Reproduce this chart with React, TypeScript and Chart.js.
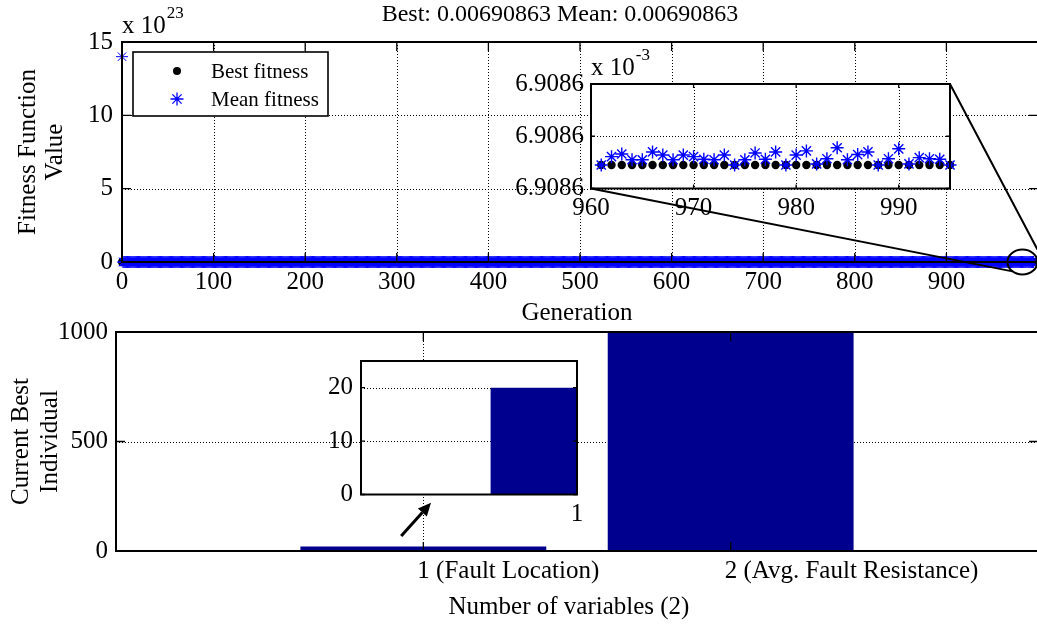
import React, { useEffect, useRef } from 'react';
import { Chart, registerables } from 'chart.js';

Chart.register(...registerables);

const SERIF = '"Liberation Serif", "Times New Roman", Times, serif';
const BLUE = '#0000FF';
const NAVY = '#00008F';
const PAGE_W = 1037;
const PAGE_H = 625;
const CANVAS_W = 1045; // axes run a little past the right page edge

// ---------- Fitness history of the GA run ----------
const lastGeneration = 995;
const initialMeanFitness = 1.4e24; // population mean at generation 0
const bestFitness = 0.00690863; // best value (stalled)
const meanFitness = 0.00690863; // converged population mean
const tailFirstGeneration = 961;
// population mean for generations 961..995
const tailMeanFitness = [
  0.00690863, 0.0069086316, 0.0069086321, 0.006908631, 0.006908631,
  0.0069086325, 0.0069086319, 0.006908631, 0.0069086319, 0.0069086316,
  0.0069086311, 0.006908631, 0.0069086319, 0.00690863, 0.006908631,
  0.0069086323, 0.0069086311, 0.0069086325, 0.00690863, 0.0069086319,
  0.0069086327, 0.0069086302, 0.0069086312, 0.0069086333, 0.006908631,
  0.006908632, 0.0069086325, 0.00690863, 0.0069086312, 0.0069086331,
  0.0069086302, 0.0069086314, 0.0069086312, 0.0069086311, 0.00690863,
];

const generationMax = 1000;
const generationTicks = [0, 100, 200, 300, 400, 500, 600, 700, 800, 900];
const fitnessMax = 15e23;
const fitnessTicks = [0, 5e23, 10e23, 15e23];
const fitnessExponent = '23';

// zoomed view of the last generations
const zoomGenerationMin = 960;
const zoomGenerationMax = 995;
const zoomGenerationTicks = [960, 970, 980, 990];
const zoomFitnessTicks = [0.0069086255, 0.0069086355, 0.0069086455];
const zoomExponent = '-3';
const zoomCenterGeneration = 983;

// ---------- Current best individual ----------
const variableIndex = [1, 2];
const variableNames = ['Fault Location', 'Avg. Fault Resistance'];
const currentBest = [20, 1000];
const individualMax = 1000;
const individualTicks = [0, 500, 1000];
const insetIndividualMax = 25;
const insetIndividualTicks = [0, 10, 20];

// plot boxes on the page
type Area = { left: number; top: number; right: number; bottom: number };
const mainArea: Area = { left: 122, top: 42, right: 1038, bottom: 262 };
const zoomArea: Area = { left: 591, top: 84, right: 950, bottom: 188.5 };
const barArea: Area = { left: 116, top: 332, right: 1038, bottom: 551 };
const barZoomArea: Area = { left: 361, top: 361, right: 577, bottom: 494.5 };

function padFor(area: Area, yW: number, xH: number) {
  return { left: area.left - yW, top: area.top, right: CANVAS_W - area.right, bottom: PAGE_H - area.bottom - xH };
}

const tickFont = { family: SERIF, size: 25 };

function drawStar(ctx: CanvasRenderingContext2D, x: number, y: number, r: number) {
  const d = r * Math.SQRT1_2;
  ctx.save();
  ctx.strokeStyle = BLUE;
  ctx.lineWidth = 1.3;
  ctx.beginPath();
  ctx.moveTo(x - r, y); ctx.lineTo(x + r, y);
  ctx.moveTo(x, y - r); ctx.lineTo(x, y + r);
  ctx.moveTo(x - d, y - d); ctx.lineTo(x + d, y + d);
  ctx.moveTo(x - d, y + d); ctx.lineTo(x + d, y - d);
  ctx.stroke();
  ctx.restore();
}

function drawDot(ctx: CanvasRenderingContext2D, x: number, y: number, r: number) {
  ctx.save();
  ctx.fillStyle = '#000';
  ctx.beginPath();
  ctx.arc(x, y, r, 0, Math.PI * 2);
  ctx.fill();
  ctx.restore();
}

function drawPower(ctx: CanvasRenderingContext2D, x: number, baseline: number, exp: string) {
  ctx.save();
  ctx.fillStyle = '#000';
  ctx.textAlign = 'left';
  ctx.textBaseline = 'alphabetic';
  ctx.font = `25px ${SERIF}`;
  ctx.fillText('x 10', x, baseline);
  const w = ctx.measureText('x 10').width;
  ctx.font = `17px ${SERIF}`;
  ctx.fillText(exp, x + w + 1, baseline - 15);
  ctx.restore();
}

function drawText(ctx: CanvasRenderingContext2D, s: string, x: number, y: number, size: number, rotate = false) {
  ctx.save();
  ctx.fillStyle = '#000';
  ctx.font = `${size}px ${SERIF}`;
  ctx.textAlign = 'center';
  ctx.textBaseline = 'alphabetic';
  ctx.translate(x, y);
  if (rotate) ctx.rotate(-Math.PI / 2);
  ctx.fillText(s, 0, 0);
  ctx.restore();
}

// MATLAB-style axes: dotted grid, inward ticks, boxed plot area
function matlabAxes(cfg: {
  xTicks: number[]; yTicks: number[]; xGrid: number[]; yGrid: number[];
  tickLen: number; boxWidth: number; whiteBg: boolean;
}) {
  return {
    id: 'matlabAxes',
    beforeDraw(chart: any) {
      if (!cfg.whiteBg) return;
      const { ctx, chartArea: a } = chart;
      ctx.save();
      ctx.fillStyle = '#fff';
      ctx.fillRect(a.left, a.top, a.right - a.left, a.bottom - a.top);
      ctx.restore();
    },
    beforeDatasetsDraw(chart: any) {
      const { ctx, chartArea: a, scales } = chart;
      ctx.save();
      ctx.strokeStyle = '#000';
      ctx.lineWidth = 1;
      ctx.setLineDash([1, 2]);
      ctx.beginPath();
      cfg.xGrid.forEach((v) => {
        const px = Math.round(scales.x.getPixelForValue(v)) + 0.5;
        ctx.moveTo(px, a.top); ctx.lineTo(px, a.bottom);
      });
      cfg.yGrid.forEach((v) => {
        const py = Math.round(scales.y.getPixelForValue(v)) + 0.5;
        ctx.moveTo(a.left, py); ctx.lineTo(a.right, py);
      });
      ctx.stroke();
      ctx.restore();
    },
    afterDatasetsDraw(chart: any) {
      const { ctx, chartArea: a, scales } = chart;
      const L = cfg.tickLen;
      ctx.save();
      ctx.strokeStyle = '#000';
      ctx.setLineDash([]);
      ctx.lineWidth = 1.3;
      ctx.beginPath();
      cfg.xTicks.forEach((v) => {
        const px = scales.x.getPixelForValue(v);
        ctx.moveTo(px, a.bottom); ctx.lineTo(px, a.bottom - L);
        ctx.moveTo(px, a.top); ctx.lineTo(px, a.top + L);
      });
      cfg.yTicks.forEach((v) => {
        const py = scales.y.getPixelForValue(v);
        ctx.moveTo(a.left, py); ctx.lineTo(a.left + L, py);
        ctx.moveTo(a.right, py); ctx.lineTo(a.right - L, py);
      });
      ctx.stroke();
      ctx.lineWidth = cfg.boxWidth;
      ctx.strokeRect(a.left, a.top, a.right - a.left, a.bottom - a.top);
      ctx.restore();
    },
  };
}

const setTicks = (values: number[]) => (axis: any) => {
  axis.ticks = values.map((value) => ({ value }));
};
const fixWidth = (w: number) => (axis: any) => { axis.width = w; };
const fixHeight = (h: number) => (axis: any) => { axis.height = h; };
const hiddenGrid = { display: false, drawTicks: false };
const hiddenBorder = { display: false };

export default function App() {
  const mainRef = useRef<HTMLCanvasElement>(null);
  const zoomRef = useRef<HTMLCanvasElement>(null);
  const barRef = useRef<HTMLCanvasElement>(null);
  const barZoomRef = useRef<HTMLCanvasElement>(null);
  const overlayRef = useRef<HTMLCanvasElement>(null);

  useEffect(() => {
    document.body.style.margin = '0';
    document.body.style.overflow = 'hidden';

    const generations = Array.from({ length: lastGeneration + 1 }, (_, g) => g);
    const bestSeries = generations.map((g) => ({ x: g, y: bestFitness }));
    const meanSeries = generations.map((g) => ({
      x: g,
      y: g === 0 ? initialMeanFitness : g >= tailFirstGeneration ? tailMeanFitness[g - tailFirstGeneration] : meanFitness,
    }));
    const tailBest = bestSeries.filter((p) => p.x >= tailFirstGeneration);
    const tailMean = meanSeries.filter((p) => p.x >= tailFirstGeneration);

    const common = {
      responsive: false,
      animation: false as const,
      events: [] as any[],
      plugins: { legend: { display: false }, tooltip: { enabled: false } },
    };

    // ---------- fitness vs generation ----------
    const mainDecor = {
      id: 'mainDecor',
      afterDraw(chart: any) {
        const { ctx, chartArea: a } = chart;
        const cx = (a.left + a.right) / 2;
        drawText(ctx, `Best: ${bestFitness} Mean: ${meanFitness}`, cx - 20, a.top - 21, 24);
        drawPower(ctx, a.left, a.top - 9, fitnessExponent);
        const cy = (a.top + a.bottom) / 2;
        drawText(ctx, 'Fitness Function', 35, cy, 25, true);
        drawText(ctx, 'Value', 62, cy, 25, true);
        drawText(ctx, 'Generation', cx - 3, a.bottom + 58, 25);
        // legend
        const lx = a.left + 11, ly = a.top + 10, lw = 195, lh = 64;
        ctx.save();
        ctx.fillStyle = '#fff';
        ctx.fillRect(lx, ly, lw, lh);
        ctx.strokeStyle = '#000';
        ctx.lineWidth = 1.6;
        ctx.strokeRect(lx, ly, lw, lh);
        ctx.restore();
        drawDot(ctx, lx + 44, ly + 19, 4);
        drawStar(ctx, lx + 44, ly + 47, 6.5);
        ctx.save();
        ctx.fillStyle = '#000';
        ctx.font = `21px ${SERIF}`;
        ctx.textAlign = 'left';
        ctx.textBaseline = 'alphabetic';
        ctx.fillText('Best fitness', lx + 78, ly + 26);
        ctx.fillText('Mean fitness', lx + 78, ly + 54);
        ctx.restore();
      },
    };

    const main = new Chart(mainRef.current!, {
      type: 'scatter',
      data: {
        datasets: [
          { label: 'Best fitness', data: bestSeries, pointStyle: 'circle', pointRadius: 4, pointBackgroundColor: '#000', pointBorderWidth: 0, order: 2, clip: false } as any,
          { label: 'Mean fitness', data: meanSeries, pointStyle: 'star', pointRadius: 6, pointBorderColor: BLUE, pointBorderWidth: 1, order: 1, clip: false } as any,
        ],
      },
      options: {
        ...common,
        layout: { padding: padFor(mainArea, 60, 40), autoPadding: false },
        scales: {
          x: {
            type: 'linear', min: 0, max: generationMax,
            afterBuildTicks: setTicks(generationTicks), afterFit: fixHeight(40),
            grid: hiddenGrid, border: hiddenBorder,
            ticks: { font: tickFont, color: '#000', padding: 5, maxRotation: 0, autoSkip: false, callback: (v: any) => String(v) },
          },
          y: {
            type: 'linear', min: 0, max: fitnessMax,
            afterBuildTicks: setTicks(fitnessTicks), afterFit: fixWidth(60),
            grid: hiddenGrid, border: hiddenBorder,
            ticks: { font: tickFont, color: '#000', padding: 9, callback: (v: any) => String(Math.round(v / 1e23)) },
          },
        },
      } as any,
      plugins: [
        matlabAxes({
          xTicks: [...generationTicks, generationMax], yTicks: fitnessTicks,
          xGrid: generationTicks.slice(1), yGrid: fitnessTicks.slice(1, -1),
          tickLen: 9, boxWidth: 2, whiteBg: false,
        }),
        mainDecor,
      ],
    });

    // ---------- zoom on the last generations ----------
    const zoomDecor = {
      id: 'zoomDecor',
      afterDraw(chart: any) {
        const { ctx, chartArea: a } = chart;
        drawPower(ctx, a.left, a.top - 9, zoomExponent);
      },
    };
    const zoom = new Chart(zoomRef.current!, {
      type: 'scatter',
      data: {
        datasets: [
          { label: 'Best fitness', data: tailBest, pointStyle: 'circle', pointRadius: 4.2, pointBackgroundColor: '#000', pointBorderWidth: 0, order: 2, clip: false } as any,
          { label: 'Mean fitness', data: tailMean, pointStyle: 'star', pointRadius: 6.5, pointBorderColor: BLUE, pointBorderWidth: 1.4, order: 1, clip: false } as any,
        ],
      },
      options: {
        ...common,
        layout: { padding: padFor(zoomArea, 90, 35), autoPadding: false },
        scales: {
          x: {
            type: 'linear', min: zoomGenerationMin, max: zoomGenerationMax,
            afterBuildTicks: setTicks(zoomGenerationTicks), afterFit: fixHeight(35),
            grid: hiddenGrid, border: hiddenBorder,
            ticks: { font: tickFont, color: '#000', padding: 5, maxRotation: 0, autoSkip: false, callback: (v: any) => String(v) },
          },
          y: {
            type: 'linear', min: zoomFitnessTicks[0], max: zoomFitnessTicks[zoomFitnessTicks.length - 1],
            afterBuildTicks: setTicks(zoomFitnessTicks), afterFit: fixWidth(90),
            grid: hiddenGrid, border: hiddenBorder,
            ticks: { font: tickFont, color: '#000', padding: 7, callback: (v: any) => (v * 1000).toFixed(4) },
          },
        },
      } as any,
      plugins: [
        matlabAxes({
          xTicks: zoomGenerationTicks, yTicks: zoomFitnessTicks,
          xGrid: zoomGenerationTicks.slice(1), yGrid: zoomFitnessTicks.slice(1, -1),
          tickLen: 4, boxWidth: 2, whiteBg: true,
        }),
        zoomDecor,
      ],
    });

    // ---------- current best individual ----------
    const barPoints = variableIndex.map((v, i) => ({ x: v, y: currentBest[i] }));
    const barDecor = {
      id: 'barDecor',
      afterDraw(chart: any) {
        const { ctx, chartArea: a } = chart;
        const cy = (a.top + a.bottom) / 2;
        drawText(ctx, 'Current Best', 28, cy, 25, true);
        drawText(ctx, 'Individual', 57, cy, 25, true);
        drawText(ctx, `Number of variables (${variableIndex.length})`, (a.left + a.right) / 2 - 8, a.bottom + 63, 25);
      },
    };
    const bar = new Chart(barRef.current!, {
      type: 'bar',
      data: {
        datasets: [{ data: barPoints, backgroundColor: NAVY, borderWidth: 0, barPercentage: 0.8, categoryPercentage: 1, clip: 0 } as any],
      },
      options: {
        ...common,
        layout: { padding: padFor(barArea, 60, 40), autoPadding: false },
        scales: {
          x: {
            type: 'linear', min: 0, max: 3, offset: false,
            afterBuildTicks: setTicks(variableIndex), afterFit: fixHeight(40),
            grid: hiddenGrid, border: hiddenBorder,
            ticks: {
              font: tickFont, color: '#000', padding: 5, maxRotation: 0, autoSkip: false,
              align: 'start', labelOffset: -6,
              callback: (v: any) => `${v} (${variableNames[variableIndex.indexOf(v)]})`,
            },
          },
          y: {
            type: 'linear', min: 0, max: individualMax,
            afterBuildTicks: setTicks(individualTicks), afterFit: fixWidth(60),
            grid: hiddenGrid, border: hiddenBorder,
            ticks: { font: tickFont, color: '#000', padding: 8, callback: (v: any) => String(v) },
          },
        },
      } as any,
      plugins: [
        matlabAxes({
          xTicks: variableIndex, yTicks: individualTicks,
          xGrid: variableIndex, yGrid: individualTicks.slice(1, -1),
          tickLen: 9, boxWidth: 2, whiteBg: false,
        }),
        barDecor,
      ],
    });

    // ---------- inset: first variable ----------
    const barZoom = new Chart(barZoomRef.current!, {
      type: 'bar',
      data: {
        datasets: [{ data: [barPoints[0]], backgroundColor: NAVY, borderWidth: 0, barPercentage: 0.8, categoryPercentage: 1, clip: 0 } as any],
      },
      options: {
        ...common,
        layout: { padding: padFor(barZoomArea, 50, 35), autoPadding: false },
        scales: {
          x: {
            type: 'linear', min: 0, max: variableIndex[0], offset: false,
            afterBuildTicks: setTicks([variableIndex[0]]), afterFit: fixHeight(35),
            grid: hiddenGrid, border: hiddenBorder,
            ticks: { font: tickFont, color: '#000', padding: 5, maxRotation: 0, autoSkip: false, callback: (v: any) => String(v) },
          },
          y: {
            type: 'linear', min: 0, max: insetIndividualMax,
            afterBuildTicks: setTicks(insetIndividualTicks), afterFit: fixWidth(50),
            grid: hiddenGrid, border: hiddenBorder,
            ticks: { font: tickFont, color: '#000', padding: 8, callback: (v: any) => String(v) },
          },
        },
      } as any,
      plugins: [
        matlabAxes({
          xTicks: [variableIndex[0]], yTicks: insetIndividualTicks,
          xGrid: [], yGrid: insetIndividualTicks.slice(1),
          tickLen: 4, boxWidth: 2, whiteBg: true,
        }),
      ],
    });

    // ---------- zoom markers and arrow ----------
    const o = overlayRef.current!.getContext('2d')!;
    o.clearRect(0, 0, CANVAS_W, PAGE_H);
    o.strokeStyle = '#000';
    o.fillStyle = '#000';
    o.lineWidth = 2;
    const ex = main.scales.x.getPixelForValue(zoomCenterGeneration);
    const ey = main.scales.y.getPixelForValue(0);
    const rx = 15, ry = 12.5;
    o.beginPath();
    o.ellipse(ex, ey, rx, ry, 0, 0, Math.PI * 2);
    o.stroke();
    const za = zoom.chartArea;
    o.beginPath();
    o.moveTo(za.right, za.top); o.lineTo(ex + rx, ey - ry);
    o.moveTo(za.left, za.bottom); o.lineTo(ex - 0.66 * rx, ey + 0.75 * ry);
    o.stroke();

    const bx = bar.scales.x, by = bar.scales.y;
    const tx = bx.getPixelForValue(0.928), ty = by.getPixelForValue(68);
    const hx = bx.getPixelForValue(1.025), hy = by.getPixelForValue(220);
    const len = Math.hypot(hx - tx, hy - ty);
    const ux = (hx - tx) / len, uy = (hy - ty) / len;
    const headL = 13, headW = 6;
    const baseX = hx - ux * headL, baseY = hy - uy * headL;
    o.lineWidth = 3;
    o.beginPath();
    o.moveTo(tx, ty); o.lineTo(baseX, baseY);
    o.stroke();
    o.beginPath();
    o.moveTo(hx, hy);
    o.lineTo(baseX - uy * headW, baseY + ux * headW);
    o.lineTo(baseX + uy * headW, baseY - ux * headW);
    o.closePath();
    o.fill();

    return () => {
      main.destroy();
      zoom.destroy();
      bar.destroy();
      barZoom.destroy();
    };
  }, []);

  const canvasStyle: React.CSSProperties = { position: 'absolute', left: 0, top: 0 };
  return (
    <div style={{ position: 'fixed', left: 0, top: 0, width: PAGE_W, height: PAGE_H, overflow: 'hidden', background: '#fff' }}>
      <canvas ref={mainRef} width={CANVAS_W} height={PAGE_H} style={canvasStyle} />
      <canvas ref={zoomRef} width={CANVAS_W} height={PAGE_H} style={canvasStyle} />
      <canvas ref={barRef} width={CANVAS_W} height={PAGE_H} style={canvasStyle} />
      <canvas ref={barZoomRef} width={CANVAS_W} height={PAGE_H} style={canvasStyle} />
      <canvas ref={overlayRef} width={CANVAS_W} height={PAGE_H} style={canvasStyle} />
    </div>
  );
}
